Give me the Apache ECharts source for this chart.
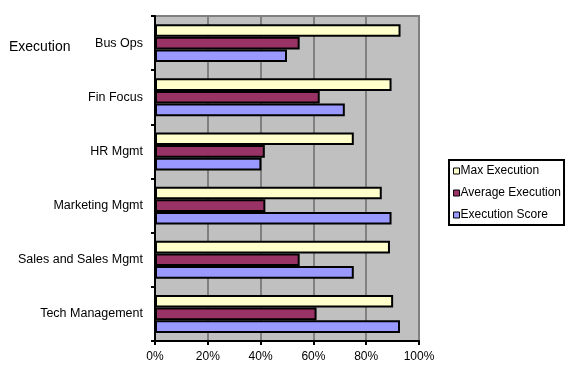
<!DOCTYPE html>
<html><head><meta charset="utf-8">
<script src="https://cdn.jsdelivr.net/npm/echarts@6/dist/echarts.min.js"></script>
<style>html,body{margin:0;padding:0;background:#fff}#c{width:576px;height:383px}</style>
</head><body><div id="c"></div>
<script>
var categories = ["Bus Ops", "Fin Focus", "HR Mgmt", "Marketing Mgmt", "Sales and Sales Mgmt", "Tech Management"];
var maxExecution = [0.93, 0.896, 0.753, 0.859, 0.89, 0.902];
var averageExecution = [0.548, 0.624, 0.416, 0.418, 0.548, 0.612];
var executionScore = [0.50, 0.719, 0.403, 0.896, 0.753, 0.928];
var seriesNames = ["Max Execution", "Average Execution", "Execution Score"];
var xTicks = [0, 0.2, 0.4, 0.6, 0.8, 1.0];

var font = "Arial, 'Liberation Sans', sans-serif";
var chart = echarts.init(document.getElementById('c'));
function mk(name, data, color) {
  return {
    name: name, type: 'bar', data: data,
    barGap: '0%', barCategoryGap: '30%',
    itemStyle: { color: color, borderColor: '#000', borderWidth: 2 },
    emphasis: { disabled: true }
  };
}
chart.setOption({
  animation: false,
  backgroundColor: '#fff',
  graphic: [{
    type: 'text', left: 9, top: 40,
    style: { text: 'Execution', font: '14px ' + font, fill: '#000' }
  }],
  grid: { left: 155, right: 157, top: 16, bottom: 42, show: true, backgroundColor: '#C0C0C0', borderColor: '#808080', borderWidth: 2 },
  legend: {
    orient: 'vertical', left: 449, top: 160,
    data: seriesNames,
    itemWidth: 6, itemHeight: 6, itemGap: 10,
    padding: [5, 3, 4, 4],
    borderColor: '#000', borderWidth: 2,
    backgroundColor: '#fff',
    icon: 'rect',
    itemStyle: { borderColor: '#000', borderWidth: 1 },
    textStyle: { fontFamily: font, fontSize: 12, color: '#000', padding: [0, 0, 0, -4] }
  },
  xAxis: {
    type: 'value', min: 0, max: 1, interval: 0.2,
    axisLine: { show: true, lineStyle: { color: '#000', width: 2 } },
    axisTick: { show: true, length: 4, lineStyle: { color: '#000', width: 2 } },
    splitLine: { show: true, lineStyle: { color: '#808080', width: 2 } },
    axisLabel: { fontFamily: font, fontSize: 12, color: '#000', margin: 10,
      formatter: function (v) { return Math.round(v * 100) + '%'; } }
  },
  yAxis: {
    type: 'category', data: categories, inverse: true,
    axisLine: { show: true, lineStyle: { color: '#000', width: 2 } },
    axisTick: { show: true, length: 4, lineStyle: { color: '#000', width: 2 } },
    axisLabel: { fontFamily: font, fontSize: 12.5, color: '#000', margin: 12 },
    splitLine: { show: false }
  },
  series: [
    mk(seriesNames[0], maxExecution, '#FFFFCC'),
    mk(seriesNames[1], averageExecution, '#993366'),
    mk(seriesNames[2], executionScore, '#9999FF')
  ]
});
</script></body></html>
